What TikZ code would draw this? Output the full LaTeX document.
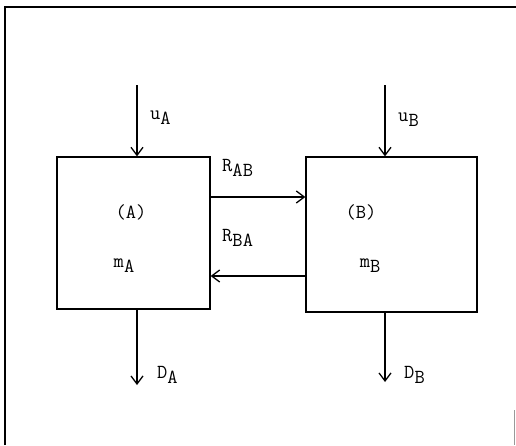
\documentclass[tikz,border=0pt]{standalone}
\usepackage{fontspec}
\usepackage{tikz}
\usetikzlibrary{arrows.meta, positioning}
\newcommand{\lowsub}[2]{#1\raisebox{-0.6ex}{#2}}

\begin{document}
\begin{tikzpicture}[
  x=0.03cm, y=-0.03cm,
  font=\ttfamily\fontsize{17}{19}\selectfont,
  box/.style={draw, line width=1.1pt, minimum width=4.59cm, inner sep=0pt},
  arrow/.style={-{Straight Barb[length=2.4mm, width=3.6mm]}, line width=1.1pt},
  lbl/.style={anchor=west, inner sep=0pt}
]
\useasboundingbox (0,0) rectangle (516,445);
% frame
\draw[line width=1.1pt] (5,445) -- (5,7) -- (516,7);
\draw[black!40] (514,410) -- (514,445);
% boxes
\node[box, minimum height=4.56cm] (boxA) at (133.5,233) {};
\node[box, minimum width=5.13cm, minimum height=4.65cm] (boxB) at (391.5,234.5) {};
\node (labA) at (131,212) {(A)};
\node (massA) at (124,266) {\lowsub{m}{A}};
\node (labB) at (361,212) {(B)};
\node (massB) at (370,266) {\lowsub{m}{B}};
% inputs and outputs
\coordinate (inA) at (137,85);
\coordinate (inB) at (385,85);
\coordinate (outA) at (137,385);
\coordinate (outB) at (385,382);
\draw[arrow] (inA) -- (inA |- boxA.north);
\draw[arrow] (inB) -- (inB |- boxB.north);
\draw[arrow] (outA |- boxA.south) -- (outA);
\draw[arrow] (outB |- boxB.south) -- (outB);
\node[lbl] (uA) at (150,118) {\lowsub{u}{A}};
\node[lbl] (uB) at (398,120) {\lowsub{u}{B}};
\node[lbl] (dA) at (157,375) {\lowsub{D}{A}};
\node[lbl] (dB) at (404,375) {\lowsub{D}{B}};
% exchanges
\coordinate (rab) at (0,197);
\coordinate (rba) at (0,276);
\draw[arrow] (boxA.east |- rab) -- (boxB.west |- rab);
\draw[arrow] (boxB.west |- rba) -- (boxA.east |- rba);
\node[lbl] (rAB) at (222,168) {\lowsub{R}{AB}};
\node[lbl] (rBA) at (222,238) {\lowsub{R}{BA}};
\end{tikzpicture}
\end{document}
